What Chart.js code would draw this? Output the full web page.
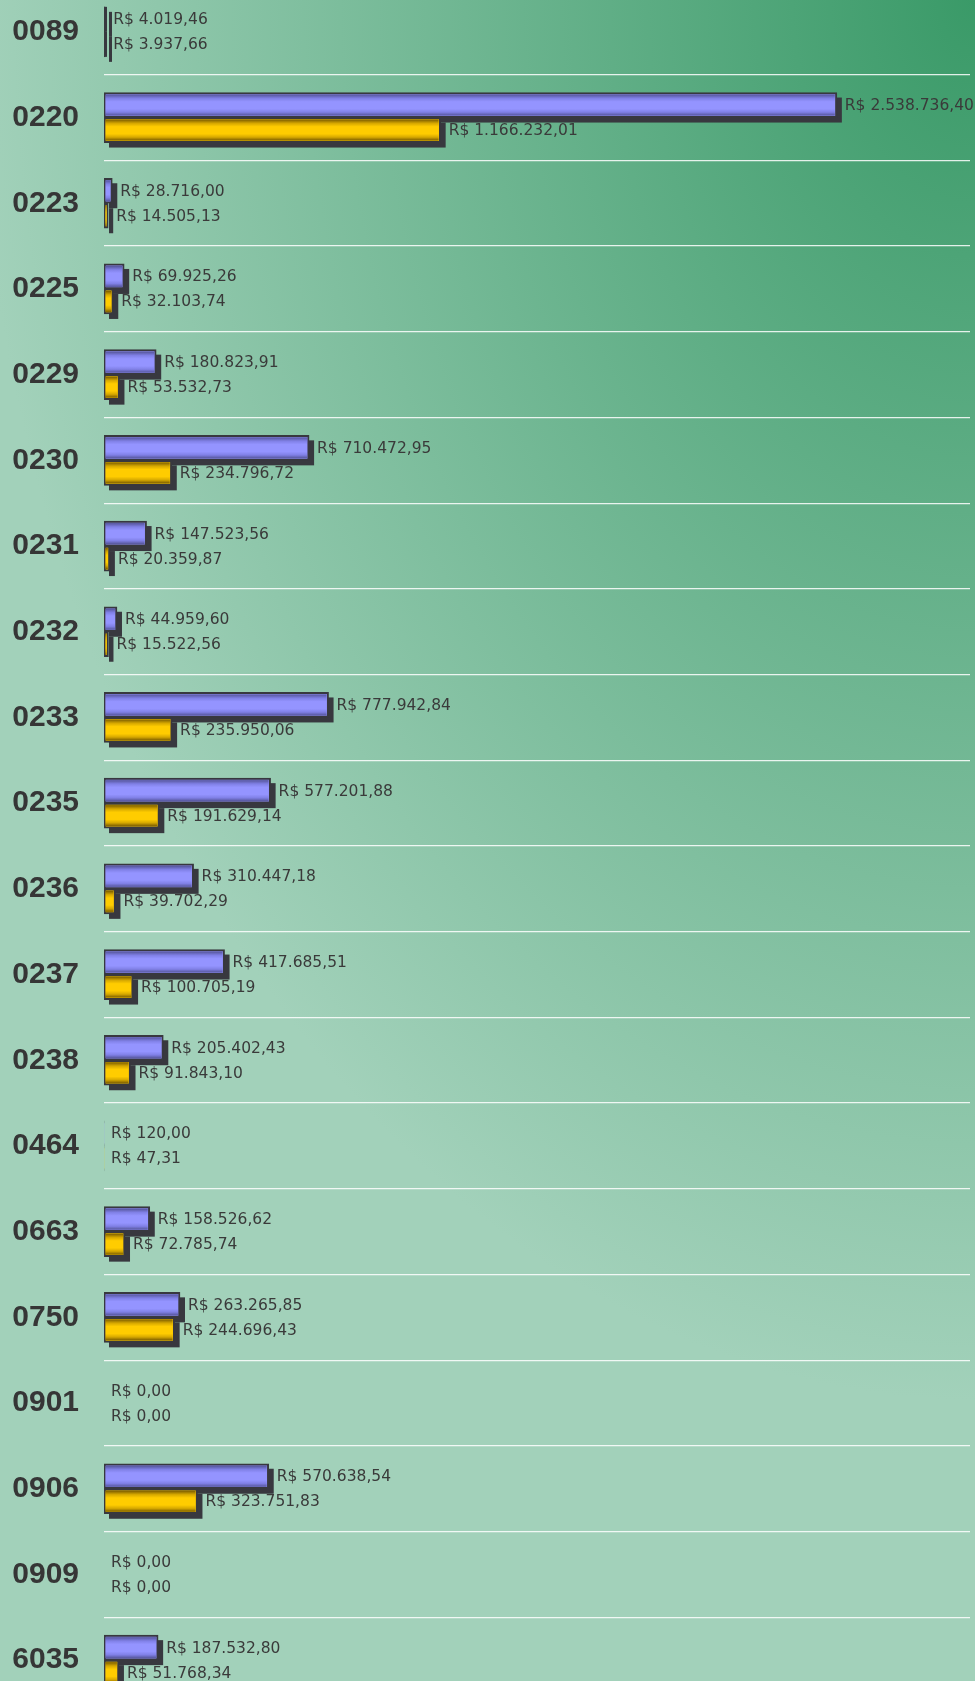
<!DOCTYPE html>
<html>
<head>
<meta charset="utf-8">
<script src="https://cdn.jsdelivr.net/npm/chart.js@4/dist/chart.umd.min.js"></script>
<style>
  html, body { margin: 0; padding: 0; }
  body {
    width: 975px; height: 1681px; overflow: hidden;
    background: radial-gradient(ellipse 1000px 1400px at 100% 0%, #3a9a68 0%, #a2d1ba 100%);
  }
  #wrap { position: relative; width: 975px; height: 1681px; overflow: hidden; }
  #grafico { position: absolute; left: 0; top: -11px; }
</style>
</head>
<body>
<div id="wrap"><canvas id="grafico" width="975" height="1714"></canvas></div>
<script>
const categorias = ["0089", "0220", "0223", "0225", "0229", "0230", "0231", "0232", "0233", "0235",
  "0236", "0237", "0238", "0464", "0663", "0750", "0901", "0906", "0909", "6035"];

const serieAzul = [4019.46, 2538736.40, 28716.00, 69925.26, 180823.91, 710472.95, 147523.56, 44959.60,
  777942.84, 577201.88, 310447.18, 417685.51, 205402.43, 120.00, 158526.62, 263265.85, 0, 570638.54, 0, 187532.80];

const serieAmarela = [3937.66, 1166232.01, 14505.13, 32103.74, 53532.73, 234796.72, 20359.87, 15522.56,
  235950.06, 191629.14, 39702.29, 100705.19, 91843.10, 47.31, 72785.74, 244696.43, 0, 323751.83, 0, 51768.34];

const eixoMax = 3000000;

// "R$ 1.234,56"
function reais(v) {
  const [int, dec] = v.toFixed(2).split(".");
  return "R$ " + int.replace(/\B(?=(\d{3})+(?!\d))/g, ".") + "," + dec;
}

const cores = [
  ["#55559a", "#8080e6", "#9494ff"],
  ["#7a5c00", "#d6a800", "#ffcc00"]
];

const sombraPlugin = {
  id: "sombra",
  beforeDatasetsDraw(chart) {
    const ctx = chart.ctx;
    ctx.save();
    ctx.fillStyle = "#38383f";
    chart.data.datasets.forEach((ds, i) => {
      chart.getDatasetMeta(i).data.forEach(el => {
        const w = el.x - el.base;
        if (w < 0.5) return;
        ctx.fillRect(el.base + 5, el.y - el.height / 2 + 5, Math.max(w, 3), el.height);
      });
    });
    ctx.restore();
  },
  afterDatasetsDraw(chart) {
    const ctx = chart.ctx;
    ctx.save();
    chart.data.datasets.forEach((ds, i) => {
      const c = cores[i];
      chart.getDatasetMeta(i).data.forEach((el, j) => {
        const w = el.x - el.base;
        const top = el.y - el.height / 2;
        if (w >= 0.5 && w < 3) {
          ctx.fillStyle = "#38383f";
          ctx.fillRect(el.base, top, 3, el.height);
        } else if (w >= 3) {
          const g = ctx.createLinearGradient(0, top + 2, 0, top + el.height - 2);
          g.addColorStop(0, c[0]);
          g.addColorStop(0.18, c[1]);
          g.addColorStop(0.34, c[2]);
          g.addColorStop(0.68, c[2]);
          g.addColorStop(0.84, c[1]);
          g.addColorStop(1, c[0]);
          ctx.fillStyle = g;
          ctx.fillRect(el.base + 1.5, top + 2, Math.max(w - 3.5, 1), el.height - 4);
        }
        // rotulo do valor
        ctx.font = "15.5px 'DejaVu Sans'";
        ctx.fillStyle = "#3a3a3a";
        ctx.textAlign = "left";
        ctx.textBaseline = "middle";
        const xr = Math.max(el.x, el.base) + (w >= 0.5 ? 8 : 7);
        ctx.fillText(reais(ds.data[j]), xr, el.y + 1);
      });
    });
    ctx.restore();
  }
};

new Chart(document.getElementById("grafico").getContext("2d"), {
  type: "bar",
  data: {
    labels: categorias,
    datasets: [
      { data: serieAzul, backgroundColor: "#9494ff", borderColor: "#38383f", borderWidth: 2, borderSkipped: false },
      { data: serieAmarela, backgroundColor: "#ffcc00", borderColor: "#38383f", borderWidth: 2, borderSkipped: false }
    ]
  },
  options: {
    indexAxis: "y",
    responsive: false,
    animation: false,
    devicePixelRatio: 1,
    barThickness: 25,
    layout: { padding: { top: 0, bottom: 0, left: 0, right: 5 } },
    plugins: { legend: { display: false }, tooltip: { enabled: false } },
    scales: {
      x: { display: false, min: 0, max: eixoMax },
      y: {
        afterFit(scale) {
          scale.width = 104;
          scale.paddingTop = 0;
          scale.paddingBottom = 0;
        },
        border: { display: false },
        grid: { color: "rgba(255,255,255,0.85)", lineWidth: 1.3, drawTicks: false },
        ticks: {
          padding: 25,
          color: "#363636",
          font: { family: "'Liberation Sans', Arial, sans-serif", size: 30, weight: "bold" }
        }
      }
    }
  },
  plugins: [sombraPlugin]
});
</script>
</body>
</html>
